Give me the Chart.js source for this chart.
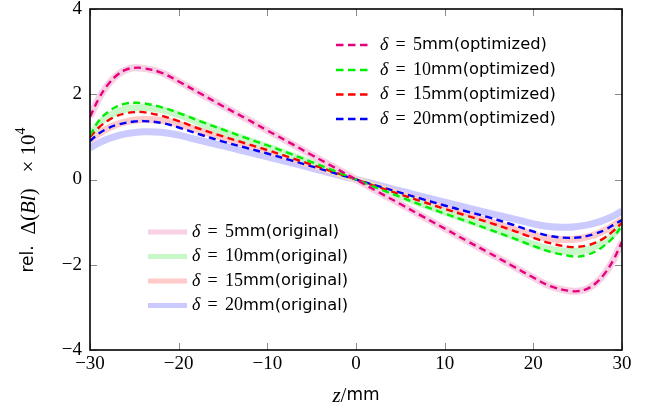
<!DOCTYPE html>
<html>
<head>
<meta charset="utf-8">
<script src="https://cdn.jsdelivr.net/npm/chart.js@4.4.0/dist/chart.umd.min.js"></script>
<style>
html,body{margin:0;padding:0;background:#fff;}
#wrap{width:652px;height:415px;position:relative;}
</style>
</head>
<body>
<div id="wrap"><canvas id="c" width="652" height="415"></canvas></div>
<script>
// ---- data ----
const zs = [-30,-29,-28,-27,-26,-25,-24,-22,-20,-17.5,-15,-12.5,-10,-7.5,-5,-2.5,0,2.5,5,7.5,10,12.5,15,17.5,20,22,24,25,26,27,28,29,30];

const opt5  = [1.47,1.90,2.22,2.44,2.57,2.62,2.61,2.51,2.30,2.01,1.72,1.44,1.15,0.865,0.575,0.29,0,-0.29,-0.575,-0.865,-1.15,-1.44,-1.72,-2.01,-2.30,-2.51,-2.61,-2.62,-2.57,-2.44,-2.22,-1.90,-1.46];
const opt10 = [1.03,1.38,1.58,1.71,1.78,1.80,1.79,1.70,1.56,1.36,1.17,0.98,0.80,0.61,0.41,0.21,0,-0.21,-0.41,-0.61,-0.80,-0.98,-1.17,-1.36,-1.56,-1.70,-1.79,-1.81,-1.77,-1.69,-1.55,-1.36,-1.08];
const opt15 = [1.00,1.22,1.38,1.49,1.55,1.58,1.58,1.50,1.37,1.18,1.01,0.85,0.69,0.52,0.35,0.175,0,-0.175,-0.35,-0.52,-0.69,-0.85,-1.01,-1.18,-1.37,-1.50,-1.58,-1.58,-1.55,-1.48,-1.37,-1.21,-1.02];
const opt20 = [0.90,1.08,1.20,1.28,1.33,1.36,1.37,1.33,1.22,1.05,0.89,0.75,0.61,0.46,0.31,0.155,0,-0.155,-0.31,-0.46,-0.61,-0.75,-0.89,-1.05,-1.22,-1.33,-1.37,-1.36,-1.33,-1.27,-1.19,-1.07,-0.95];

const orig5  = [1.47,1.90,2.22,2.44,2.57,2.62,2.61,2.51,2.30,2.01,1.72,1.44,1.15,0.865,0.575,0.29,0,-0.29,-0.575,-0.865,-1.15,-1.44,-1.72,-2.01,-2.30,-2.51,-2.61,-2.62,-2.57,-2.44,-2.22,-1.90,-1.46];
const orig10 = [1.02,1.30,1.47,1.58,1.65,1.68,1.69,1.64,1.52,1.32,1.13,0.95,0.77,0.58,0.39,0.20,0,-0.20,-0.39,-0.58,-0.77,-0.95,-1.13,-1.32,-1.52,-1.64,-1.69,-1.68,-1.65,-1.57,-1.46,-1.29,-1.06];
const orig15 = [0.93,1.08,1.20,1.29,1.35,1.39,1.41,1.39,1.30,1.14,0.98,0.83,0.67,0.51,0.34,0.17,0,-0.17,-0.34,-0.51,-0.67,-0.83,-0.98,-1.14,-1.30,-1.39,-1.41,-1.39,-1.35,-1.29,-1.20,-1.08,-0.95];
const orig20 = [0.74,0.86,0.95,1.02,1.07,1.10,1.12,1.11,1.04,0.91,0.79,0.66,0.53,0.40,0.27,0.13,0,-0.13,-0.27,-0.40,-0.53,-0.66,-0.79,-0.91,-1.04,-1.11,-1.12,-1.10,-1.07,-1.02,-0.95,-0.86,-0.74];

const xTicks = [-30,-20,-10,0,10,20,30];
const yTicks = [-4,-2,0,2,4];
const deltas = ['5','10','15','20'];

const optColors  = ['#e6007e','#00ee00','#ff0000','#0000ff'];
const origColors = ['#f8d0e4','#c8f8c8','#ffcaca','#cacaff'];

// ---- build datasets ----
const pts = arr => zs.map((z,i)=>({x:z,y:arr[i]}));
const optSeries  = [opt5,opt10,opt15,opt20];
const origSeries = [orig5,orig10,orig15,orig20];

const datasets = [];
optSeries.forEach((s,i)=>datasets.push({
  label:'opt'+deltas[i], data:pts(s), borderColor:optColors[i], borderWidth:2.4,
  borderDash:[7,4.5], pointRadius:0, fill:false, tension:0.4
}));
origSeries.forEach((s,i)=>datasets.push({
  label:'orig'+deltas[i], data:pts(s), borderColor:origColors[i], borderWidth:7,
  pointRadius:0, fill:false, tension:0.4, borderCapStyle:'butt'
}));

const SERIF = '"Liberation Serif", "DejaVu Serif", serif';
const SANS  = '"DejaVu Sans", sans-serif';
const minus = v => String(v).replace('-','\u2212');

function drawRich(ctx, x, y, segs, align){
  let w = 0;
  segs.forEach(s=>{ctx.font=s.f; w += ctx.measureText(s.t).width;});
  let cx = align==='center' ? x - w/2 : x;
  segs.forEach(s=>{
    ctx.font=s.f;
    ctx.fillText(s.t, cx, y + (s.dy||0));
    cx += ctx.measureText(s.t).width;
  });
}

const decor = {
  id:'decor',
  afterDatasetsDraw(chart){
    const ctx = chart.ctx, a = chart.chartArea;
    const xs = chart.scales.x, ys = chart.scales.y;
    ctx.save();
    ctx.strokeStyle = '#8a8a8a'; ctx.lineWidth = 1;
    ctx.beginPath();
    xTicks.forEach(v=>{
      const px = Math.round(xs.getPixelForValue(v))+0.5;
      ctx.moveTo(px,a.bottom); ctx.lineTo(px,a.bottom-7);
      ctx.moveTo(px,a.top); ctx.lineTo(px,a.top+7);
    });
    yTicks.forEach(v=>{
      const py = Math.round(ys.getPixelForValue(v))+0.5;
      ctx.moveTo(a.left,py); ctx.lineTo(a.left+7,py);
      ctx.moveTo(a.right,py); ctx.lineTo(a.right-7,py);
    });
    ctx.stroke();
    ctx.strokeStyle = '#000'; ctx.lineWidth = 1.6;
    ctx.strokeRect(a.left, a.top, a.right-a.left, a.bottom-a.top);
    ctx.restore();
  },
  afterDraw(chart){
    const ctx = chart.ctx, a = chart.chartArea;
    ctx.save();
    ctx.fillStyle = '#000';
    ctx.textBaseline = 'middle';
    const eq = '\u2009\u2009=\u2009\u2009';
    // legend 1 (optimized)
    const r1 = [45,70,94.5,119];
    r1.forEach((y,i)=>{
      ctx.save();
      ctx.strokeStyle = optColors[i]; ctx.lineWidth = 2.4; ctx.setLineDash([7.5,4.5]);
      ctx.beginPath(); ctx.moveTo(336,y); ctx.lineTo(371,y); ctx.stroke();
      ctx.restore();
      drawRich(ctx, 380, y, [
        {t:'\u03b4', f:'italic 18px '+SERIF},
        {t:eq+deltas[i], f:'18px '+SERIF},
        {t:'mm(optimized)', f:'16.3px '+SANS}
      ]);
    });
    // legend 2 (original)
    const r2 = [232,256.5,281,305.5];
    r2.forEach((y,i)=>{
      ctx.save();
      ctx.strokeStyle = origColors[i]; ctx.lineWidth = 5;
      ctx.beginPath(); ctx.moveTo(148,y); ctx.lineTo(187,y); ctx.stroke();
      ctx.restore();
      drawRich(ctx, 192, y, [
        {t:'\u03b4', f:'italic 18px '+SERIF},
        {t:eq+deltas[i], f:'18px '+SERIF},
        {t:'mm(original)', f:'16.3px '+SANS}
      ]);
    });
    // x title
    drawRich(ctx, (a.left+a.right)/2, 396, [
      {t:'z', f:'italic 21px '+SERIF},
      {t:'/', f:'21px '+SERIF},
      {t:'mm', f:'17px '+SANS}
    ], 'center');
    // y title
    ctx.translate(29, 200);
    ctx.rotate(-Math.PI/2);
    drawRich(ctx, 0, 0, [
      {t:'rel.  ', f:'17px '+SANS},
      {t:'\u0394(', f:'21px '+SERIF},
      {t:'Bl', f:'italic 21px '+SERIF},
      {t:')   \u00d7 10', f:'21px '+SERIF},
      {t:'4', f:'14px '+SERIF, dy:-8}
    ], 'center');
    ctx.restore();
  }
};

new Chart(document.getElementById('c'), {
  type:'line',
  data:{datasets},
  options:{
    responsive:false, animation:false, devicePixelRatio:1,
    layout:{padding:{top:9,right:30,left:0,bottom:0}},
    plugins:{legend:{display:false}, tooltip:{enabled:false}},
    scales:{
      x:{type:'linear', min:-30, max:30,
         afterBuildTicks: s=>{ s.ticks = xTicks.map(v=>({value:v})); },
         ticks:{color:'#000', padding:5, maxRotation:0, autoSkip:false,
                font:{family:SERIF, size:19, lineHeight:1}, callback:v=>minus(v)},
         grid:{display:false, drawTicks:false}, border:{display:false},
         afterFit: s=>{ s.height = 65; s.paddingLeft=0; s.paddingRight=0; }
      },
      y:{type:'linear', min:-4, max:4,
         afterBuildTicks: s=>{ s.ticks = yTicks.map(v=>({value:v})); },
         ticks:{color:'#000', padding:8, autoSkip:false,
                font:{family:SERIF, size:19, lineHeight:1}, callback:v=>minus(v)},
         grid:{display:false, drawTicks:false}, border:{display:false},
         afterFit: s=>{ s.width = 90; s.paddingTop=0; s.paddingBottom=0; }
      }
    }
  },
  plugins:[decor]
});
</script>
</body>
</html>
